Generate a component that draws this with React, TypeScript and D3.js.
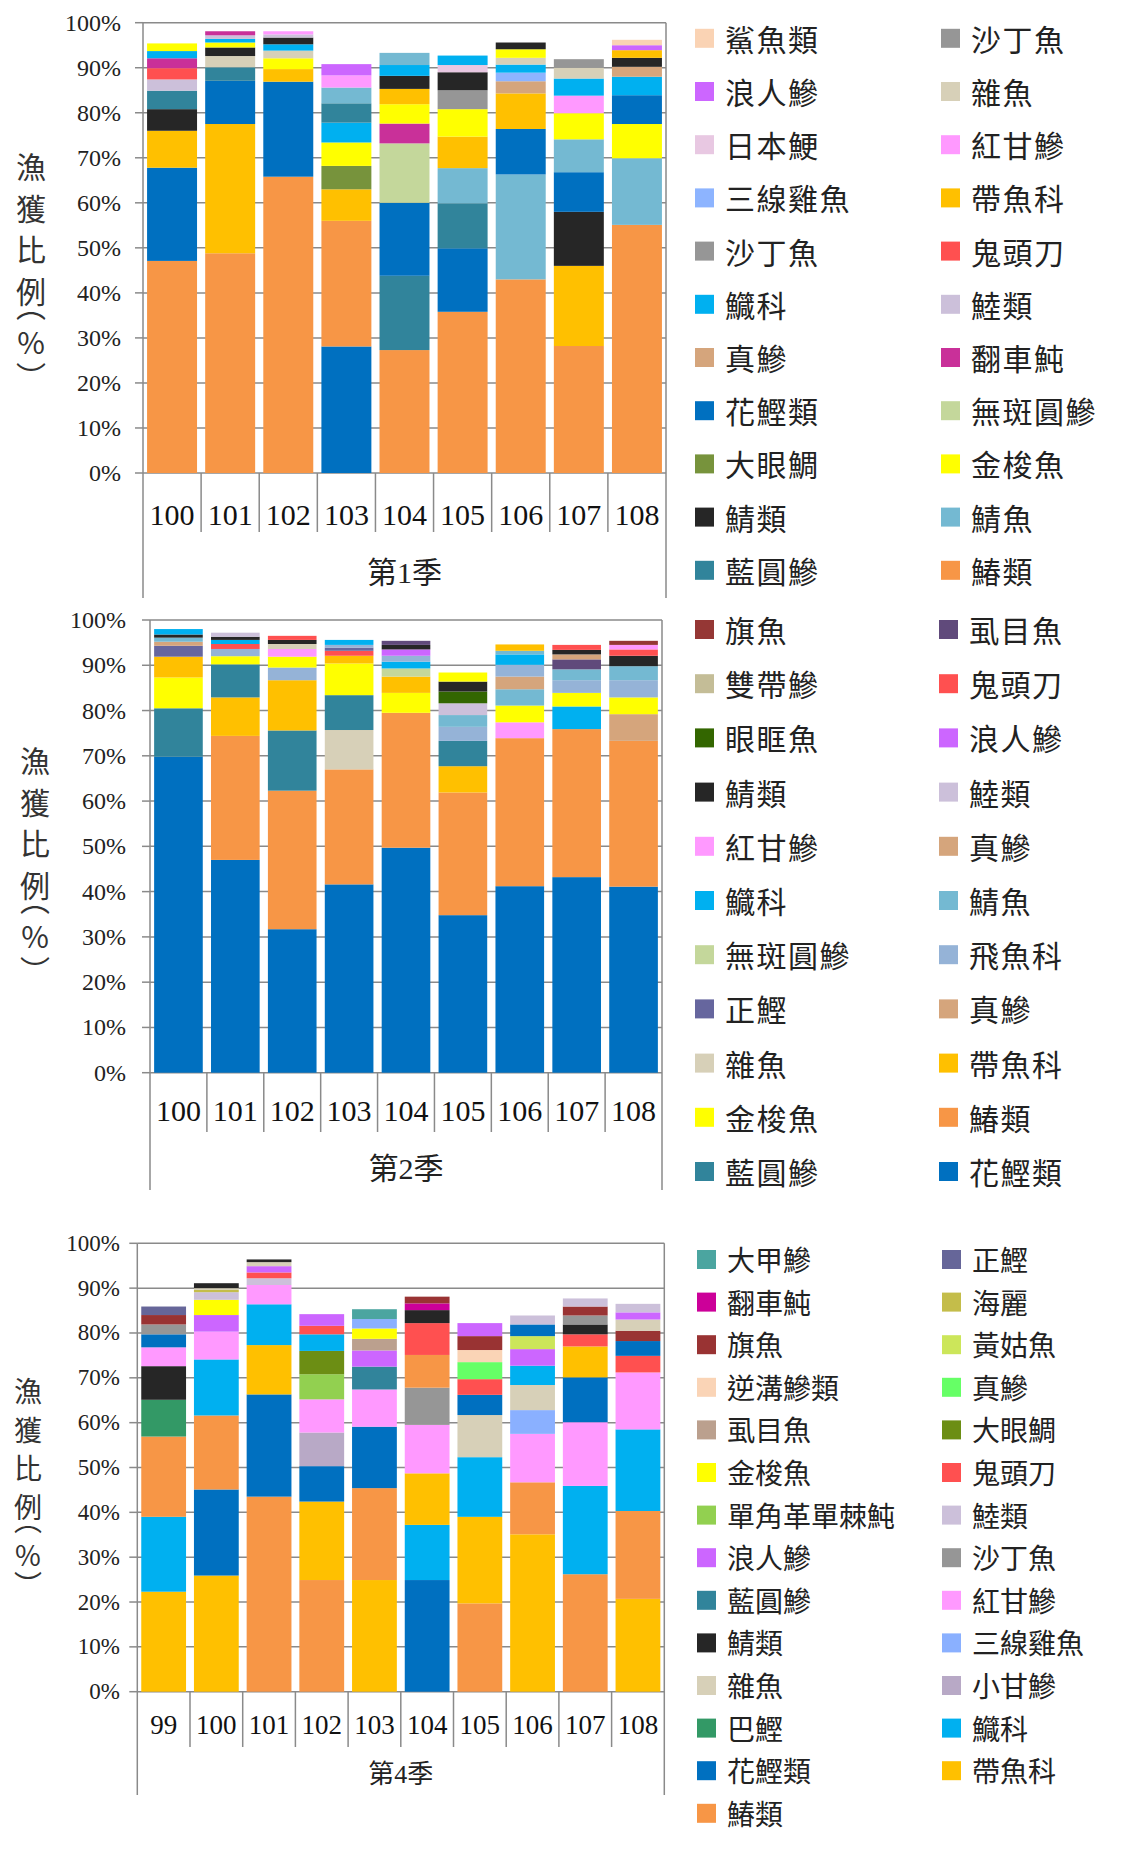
import React from "react";
import * as d3 from "d3";

// ---- data: share of catch (%) per year, segments listed bottom -> top ----
const years1 = ["100", "101", "102", "103", "104", "105", "106", "107", "108"];
const bars1: [string, number][][] = [
  [["鰆類", 47.1], ["花鰹類", 20.7], ["帶魚科", 8.2], ["鯖類", 4.8], ["藍圓鰺", 4.1], ["鯥類", 2.5], ["鬼頭刀", 2.5], ["翻車魨", 2.2], ["鱵科", 1.6], ["金梭魚", 1.7]],
  [["鰆類", 48.8], ["帶魚科", 28.7], ["花鰹類", 9.6], ["藍圓鰺", 3.0], ["雜魚", 2.5], ["鯖類", 1.9], ["金梭魚", 1.1], ["鱵科", 0.8], ["鯥類", 0.8], ["翻車魨", 0.9]],
  [["鰆類", 65.8], ["花鰹類", 21.1], ["帶魚科", 2.8], ["金梭魚", 2.4], ["雜魚", 1.7], ["鱵科", 1.4], ["鯖類", 1.5], ["鯥類", 0.7], ["紅甘鰺", 0.7]],
  [["花鰹類", 28.1], ["鰆類", 27.9], ["帶魚科", 7.0], ["大眼鯛", 5.2], ["金梭魚", 5.2], ["鱵科", 4.4], ["藍圓鰺", 4.3], ["鯖魚", 3.5], ["紅甘鰺", 2.7], ["浪人鰺", 2.5]],
  [["鰆類", 27.3], ["藍圓鰺", 16.5], ["花鰹類", 16.2], ["無斑圓鰺", 13.2], ["翻車魨", 4.4], ["金梭魚", 4.3], ["帶魚科", 3.4], ["鯖類", 2.9], ["鱵科", 2.4], ["鯖魚", 2.7]],
  [["鰆類", 35.8], ["花鰹類", 14.1], ["藍圓鰺", 10.0], ["鯖魚", 7.8], ["帶魚科", 7.0], ["金梭魚", 6.1], ["沙丁魚", 4.2], ["鯖類", 4.0], ["日本鯁", 1.6], ["鱵科", 2.1]],
  [["鰆類", 43.0], ["鯖魚", 23.3], ["花鰹類", 10.1], ["帶魚科", 7.9], ["真鰺", 2.7], ["三線雞魚", 1.9], ["鱵科", 1.8], ["雜魚", 1.5], ["金梭魚", 1.9], ["鯖類", 1.5]],
  [["鰆類", 28.2], ["帶魚科", 17.8], ["鯖類", 12.0], ["花鰹類", 8.8], ["鯖魚", 7.3], ["金梭魚", 5.8], ["紅甘鰺", 3.9], ["鱵科", 3.8], ["雜魚", 2.4], ["沙丁魚", 1.9]],
  [["鰆類", 55.1], ["鯖魚", 14.8], ["金梭魚", 7.6], ["花鰹類", 6.4], ["鱵科", 4.1], ["真鰺", 2.2], ["鯖類", 2.0], ["帶魚科", 1.7], ["浪人鰺", 1.1], ["鯊魚類", 1.2]],
];
const legend1 = ["鯊魚類", "沙丁魚", "浪人鰺", "雜魚", "日本鯁", "紅甘鰺", "三線雞魚", "帶魚科", "沙丁魚", "鬼頭刀", "鱵科", "鯥類", "真鰺", "翻車魨", "花鰹類", "無斑圓鰺", "大眼鯛", "金梭魚", "鯖類", "鯖魚", "藍圓鰺", "鰆類"];

const years2 = ["100", "101", "102", "103", "104", "105", "106", "107", "108"];
const bars2: [string, number][][] = [
  [["花鰹類", 69.8], ["藍圓鰺", 10.7], ["金梭魚", 6.8], ["帶魚科", 4.6], ["正鰹", 2.4], ["真鰺", 0.9], ["鯖魚", 0.9], ["鯖類", 0.7], ["鱵科", 1.2]],
  [["花鰹類", 47.0], ["鰆類", 27.4], ["帶魚科", 8.5], ["藍圓鰺", 7.3], ["金梭魚", 1.8], ["飛魚科", 1.6], ["鬼頭刀", 1.1], ["鱵科", 0.9], ["鯖類", 0.7], ["鯥類", 0.9]],
  [["花鰹類", 31.7], ["鰆類", 30.6], ["藍圓鰺", 13.3], ["帶魚科", 11.1], ["飛魚科", 2.8], ["金梭魚", 2.4], ["紅甘鰺", 1.7], ["雜魚", 1.1], ["鯖類", 0.9], ["鬼頭刀", 0.9]],
  [["花鰹類", 41.6], ["鰆類", 25.4], ["雜魚", 8.7], ["藍圓鰺", 7.7], ["金梭魚", 7.0], ["帶魚科", 1.7], ["鬼頭刀", 1.1], ["正鰹", 0.7], ["飛魚科", 0.6], ["鱵科", 1.1]],
  [["花鰹類", 49.7], ["鰆類", 29.8], ["金梭魚", 4.4], ["帶魚科", 3.6], ["無斑圓鰺", 1.8], ["鱵科", 1.5], ["飛魚科", 1.3], ["浪人鰺", 1.4], ["鯖類", 1.0], ["虱目魚", 0.9]],
  [["花鰹類", 34.8], ["鰆類", 27.1], ["帶魚科", 5.8], ["藍圓鰺", 5.6], ["飛魚科", 3.1], ["鯖魚", 2.6], ["鯥類", 2.6], ["眼眶魚", 2.6], ["鯖類", 2.2], ["金梭魚", 2.0]],
  [["花鰹類", 41.2], ["鰆類", 32.7], ["紅甘鰺", 3.5], ["金梭魚", 3.7], ["鯖魚", 3.6], ["真鰺", 2.8], ["飛魚科", 2.6], ["鱵科", 2.3], ["鯖魚", 0.8], ["帶魚科", 1.4]],
  [["花鰹類", 43.2], ["鰆類", 32.7], ["鱵科", 5.0], ["金梭魚", 3.0], ["飛魚科", 2.8], ["鯖魚", 2.4], ["虱目魚", 2.2], ["真鰺", 1.1], ["鯖類", 1.0], ["鬼頭刀", 1.1]],
  [["花鰹類", 41.1], ["鰆類", 32.2], ["真鰺", 5.9], ["金梭魚", 3.7], ["飛魚科", 3.8], ["鯖魚", 3.1], ["鯖類", 2.3], ["鬼頭刀", 1.4], ["紅甘鰺", 1.0], ["旗魚", 0.9]],
];
const legend2 = ["旗魚", "虱目魚", "雙帶鰺", "鬼頭刀", "眼眶魚", "浪人鰺", "鯖類", "鯥類", "紅甘鰺", "真鰺", "鱵科", "鯖魚", "無斑圓鰺", "飛魚科", "正鰹", "真鰺", "雜魚", "帶魚科", "金梭魚", "鰆類", "藍圓鰺", "花鰹類"];

const years3 = ["99", "100", "101", "102", "103", "104", "105", "106", "107", "108"];
const bars3: [string, number][][] = [
  [["帶魚科", 22.3], ["鱵科", 16.7], ["鰆類", 17.9], ["巴鰹", 8.2], ["鯖類", 7.5], ["紅甘鰺", 4.2], ["花鰹類", 2.9], ["沙丁魚", 2.2], ["旗魚", 2.1], ["正鰹", 1.9]],
  [["帶魚科", 25.9], ["花鰹類", 19.2], ["鰆類", 16.5], ["鱵科", 12.5], ["紅甘鰺", 6.2], ["浪人鰺", 3.7], ["金梭魚", 3.4], ["鯥類", 1.7], ["海麗", 0.5], ["雜魚", 0.4], ["鯖類", 1.1]],
  [["鰆類", 43.5], ["花鰹類", 22.8], ["帶魚科", 11.0], ["鱵科", 9.1], ["紅甘鰺", 4.3], ["鯥類", 1.5], ["鬼頭刀", 1.3], ["浪人鰺", 1.4], ["雜魚", 0.9], ["鯖類", 0.6]],
  [["鰆類", 24.9], ["帶魚科", 17.5], ["花鰹類", 7.9], ["小甘鰺", 7.5], ["紅甘鰺", 7.4], ["單角革單棘魨", 5.6], ["大眼鯛", 5.2], ["鱵科", 3.7], ["鬼頭刀", 1.9], ["浪人鰺", 2.6]],
  [["帶魚科", 24.9], ["鰆類", 20.5], ["花鰹類", 13.7], ["紅甘鰺", 8.3], ["藍圓鰺", 5.1], ["浪人鰺", 3.6], ["虱目魚", 2.6], ["金梭魚", 2.3], ["三線雞魚", 2.1], ["大甲鰺", 2.2]],
  [["花鰹類", 24.9], ["鱵科", 12.3], ["帶魚科", 11.5], ["紅甘鰺", 10.8], ["沙丁魚", 8.3], ["鰆類", 7.3], ["鬼頭刀", 7.1], ["鯖類", 2.9], ["翻車魨", 1.5], ["旗魚", 1.5]],
  [["鰆類", 19.7], ["帶魚科", 19.3], ["鱵科", 13.3], ["雜魚", 9.4], ["花鰹類", 4.5], ["鬼頭刀", 3.5], ["真鰺", 3.8], ["逆溝鰺類", 2.7], ["旗魚", 3.1], ["浪人鰺", 2.9]],
  [["帶魚科", 35.1], ["鰆類", 11.6], ["紅甘鰺", 10.8], ["三線雞魚", 5.3], ["雜魚", 5.6], ["鱵科", 4.3], ["浪人鰺", 3.7], ["黃姑魚", 2.9], ["花鰹類", 2.6], ["鯥類", 2.0]],
  [["鰆類", 26.2], ["鱵科", 19.7], ["紅甘鰺", 14.2], ["花鰹類", 10.0], ["帶魚科", 6.9], ["鬼頭刀", 2.7], ["鯖類", 2.2], ["沙丁魚", 2.0], ["旗魚", 2.0], ["鯥類", 1.8]],
  [["帶魚科", 20.7], ["鰆類", 19.6], ["鱵科", 18.2], ["紅甘鰺", 12.7], ["鬼頭刀", 3.7], ["花鰹類", 3.3], ["旗魚", 2.3], ["雜魚", 2.5], ["浪人鰺", 1.6], ["鯥類", 1.9]],
];
const legend3 = ["大甲鰺", "正鰹", "翻車魨", "海麗", "旗魚", "黃姑魚", "逆溝鰺類", "真鰺", "虱目魚", "大眼鯛", "金梭魚", "鬼頭刀", "單角革單棘魨", "鯥類", "浪人鰺", "沙丁魚", "藍圓鰺", "紅甘鰺", "鯖類", "三線雞魚", "雜魚", "小甘鰺", "巴鰹", "鱵科", "花鰹類", "帶魚科", "鰆類"];

const seasons = ["第1季", "第2季", "第4季"];
const yTitle = ["漁", "獲", "比", "例"];

// ---- colours ----
const colors1: Record<string, string> = {
  鯊魚類: "#FAD3B4", 沙丁魚: "#969696", 浪人鰺: "#CC66FF", 雜魚: "#D7D0B8", 日本鯁: "#E8C8E2",
  紅甘鰺: "#FF99FF", 三線雞魚: "#8DB4FF", 帶魚科: "#FFC000", 鬼頭刀: "#FF5050", 鱵科: "#00B0F0",
  鯥類: "#CCC0DA", 真鰺: "#D5A57C", 翻車魨: "#C93099", 花鰹類: "#0070C0", 無斑圓鰺: "#C4D79B",
  大眼鯛: "#77933C", 金梭魚: "#FFFF00", 鯖類: "#262626", 鯖魚: "#74B9D2", 藍圓鰺: "#31849B", 鰆類: "#F79646",
};
const colors2: Record<string, string> = {
  ...colors1,
  旗魚: "#953735", 虱目魚: "#604A7B", 雙帶鰺: "#C4BD97", 眼眶魚: "#336600", 正鰹: "#66669E", 飛魚科: "#95B3D7",
};
const colors3: Record<string, string> = {
  ...colors1,
  大甲鰺: "#4BA5A0", 翻車魨: "#CC0099", 旗魚: "#993333", 逆溝鰺類: "#FAD4B6", 虱目魚: "#BBA08E",
  單角革單棘魨: "#92D050", 巴鰹: "#339966", 正鰹: "#666699", 海麗: "#C4BD4A", 黃姑魚: "#CCE65A",
  真鰺: "#66FF66", 大眼鯛: "#6C8E14", 三線雞魚: "#8AB0FF", 小甘鰺: "#B8A9C6",
};

const serif = "'Liberation Serif', 'Times New Roman', 'DejaVu Serif', serif";
const cjk = "'Noto Sans CJK TC', 'Noto Sans CJK SC', sans-serif";
const gridColor = "#8a8a8a";

const layouts = [
  { left: 143, right: 666, top: 22.7, bottom: 473, pad: 0.14, sepBottom: 532, outerBottom: 598, labelY: 514, labelSize: 30, seasonY: 572, seasonSize: 30, tickSize: 24, tickRight: 121, titleX: 31, titleY: 165, titlePitch: 41.5, titleSize: 30, legendY: 37.8, legendPitch: 53.2, legendSize: 30, legendX: [695, 941], spacing: 1.5 },
  { left: 150, right: 662, top: 620, bottom: 1072.7, pad: 0.145, sepBottom: 1132, outerBottom: 1190, labelY: 1110, labelSize: 30, seasonY: 1168, seasonSize: 30, tickSize: 24, tickRight: 126, titleX: 35, titleY: 759, titlePitch: 41.5, titleSize: 30, legendY: 629, legendPitch: 54.2, legendSize: 30, legendX: [695, 939], spacing: 1.5 },
  { left: 137.3, right: 664.3, top: 1243.3, bottom: 1691.7, pad: 0.15, sepBottom: 1747, outerBottom: 1795, labelY: 1725, labelSize: 27, seasonY: 1774, seasonSize: 26, tickSize: 23, tickRight: 120, titleX: 28, titleY: 1390, titlePitch: 38.5, titleSize: 28, legendY: 1259, legendPitch: 42.6, legendSize: 28, legendX: [697, 942], spacing: 0 },
];

function Panel({ cats, bars, colors, legend, season, L }) {
  const x = d3.scaleBand().domain(cats).range([L.left, L.right]).paddingInner(L.pad).paddingOuter(L.pad / 2);
  const y = d3.scaleLinear().domain([0, 100]).range([L.bottom, L.top]);
  const step = x.step();
  const edges = cats.map((c) => x(c) - (step * L.pad) / 2);
  const ticks = y.ticks(10);
  const fmt = d3.format(".0%");

  const stacked = bars.map((segs) => {
    let acc = 0;
    return segs.map(([name, v]) => {
      const y0 = acc;
      acc += v;
      return { name, y0, y1: acc };
    });
  });

  const tp = L.titlePitch;
  return (
    <g>
      {/* gridlines */}
      {ticks.map((t) => (
        <line key={t} x1={L.left} x2={L.right} y1={y(t)} y2={y(t)} stroke={gridColor} strokeWidth={1.5} />
      ))}
      {/* bars */}
      {stacked.map((segs, i) => (
        <g key={cats[i]}>
          {segs.map((s, j) => (
            <rect key={j} x={x(cats[i])} width={x.bandwidth()} y={y(s.y1)} height={y(s.y0) - y(s.y1)} fill={colors[s.name]} />
          ))}
        </g>
      ))}
      {/* frame */}
      <line x1={L.left} x2={L.left} y1={L.top} y2={L.outerBottom} stroke={gridColor} strokeWidth={1.5} />
      <line x1={L.right} x2={L.right} y1={L.top} y2={L.outerBottom} stroke={gridColor} strokeWidth={1.5} />
      {edges.slice(1).map((e, i) => (
        <line key={i} x1={e} x2={e} y1={L.bottom} y2={L.sepBottom} stroke={gridColor} strokeWidth={1.5} />
      ))}
      {/* y ticks */}
      {ticks.map((t) => (
        <g key={t}>
          <line x1={L.left - 8} x2={L.left} y1={y(t)} y2={y(t)} stroke={gridColor} strokeWidth={1.5} />
          <text x={L.tickRight} y={y(t)} textAnchor="end" dominantBaseline="central" fontFamily={serif} fontSize={L.tickSize} fill="#222">
            {fmt(t / 100)}
          </text>
        </g>
      ))}
      {/* category labels */}
      {cats.map((c) => (
        <text key={c} x={x(c) + x.bandwidth() / 2} y={L.labelY} textAnchor="middle" dominantBaseline="central" fontFamily={serif} fontSize={L.labelSize} fill="#111">
          {c}
        </text>
      ))}
      <text x={(L.left + L.right) / 2} y={L.seasonY} textAnchor="middle" dominantBaseline="central" fontFamily={`'Liberation Serif', 'Noto Sans CJK TC', serif`} fontSize={L.seasonSize} fill="#222">
        {season}
      </text>
      {/* y title */}
      {yTitle.map((ch, i) => (
        <text key={i} x={L.titleX} y={L.titleY + i * tp} textAnchor="middle" dominantBaseline="central" fontFamily={cjk} fontSize={L.titleSize} fill="#333">
          {ch}
        </text>
      ))}
      <text x={L.titleX} y={L.titleY + 3.35 * tp} textAnchor="middle" dominantBaseline="central" fontFamily={cjk} fontSize={L.titleSize} fill="#333">︵</text>
      <text x={L.titleX} y={L.titleY + 4.25 * tp} textAnchor="middle" dominantBaseline="central" fontFamily={cjk} fontSize={L.titleSize} fill="#333">%</text>
      <text x={L.titleX} y={L.titleY + 5.05 * tp} textAnchor="middle" dominantBaseline="central" fontFamily={cjk} fontSize={L.titleSize} fill="#333">︶</text>
      {/* legend */}
      {legend.map((name, i) => {
        const col = i % 2;
        const row = Math.floor(i / 2);
        const cy = L.legendY + row * L.legendPitch;
        const sx = L.legendX[col];
        return (
          <g key={i}>
            <rect x={sx} y={cy - 9} width={19} height={19} fill={colors[name]} />
            <text x={sx + 30} y={cy} dominantBaseline="central" fontFamily={cjk} fontSize={L.legendSize} letterSpacing={L.spacing} fill="#222">
              {name}
            </text>
          </g>
        );
      })}
    </g>
  );
}

export default function App() {
  return (
    <svg width={1126} height={1850} style={{ position: "absolute", left: 0, top: 0, background: "#fff" }}>
      <rect width={1126} height={1850} fill="#fff" />
      <Panel cats={years1} bars={bars1} colors={colors1} legend={legend1} season={seasons[0]} L={layouts[0]} />
      <Panel cats={years2} bars={bars2} colors={colors2} legend={legend2} season={seasons[1]} L={layouts[1]} />
      <Panel cats={years3} bars={bars3} colors={colors3} legend={legend3} season={seasons[2]} L={layouts[2]} />
    </svg>
  );
}
